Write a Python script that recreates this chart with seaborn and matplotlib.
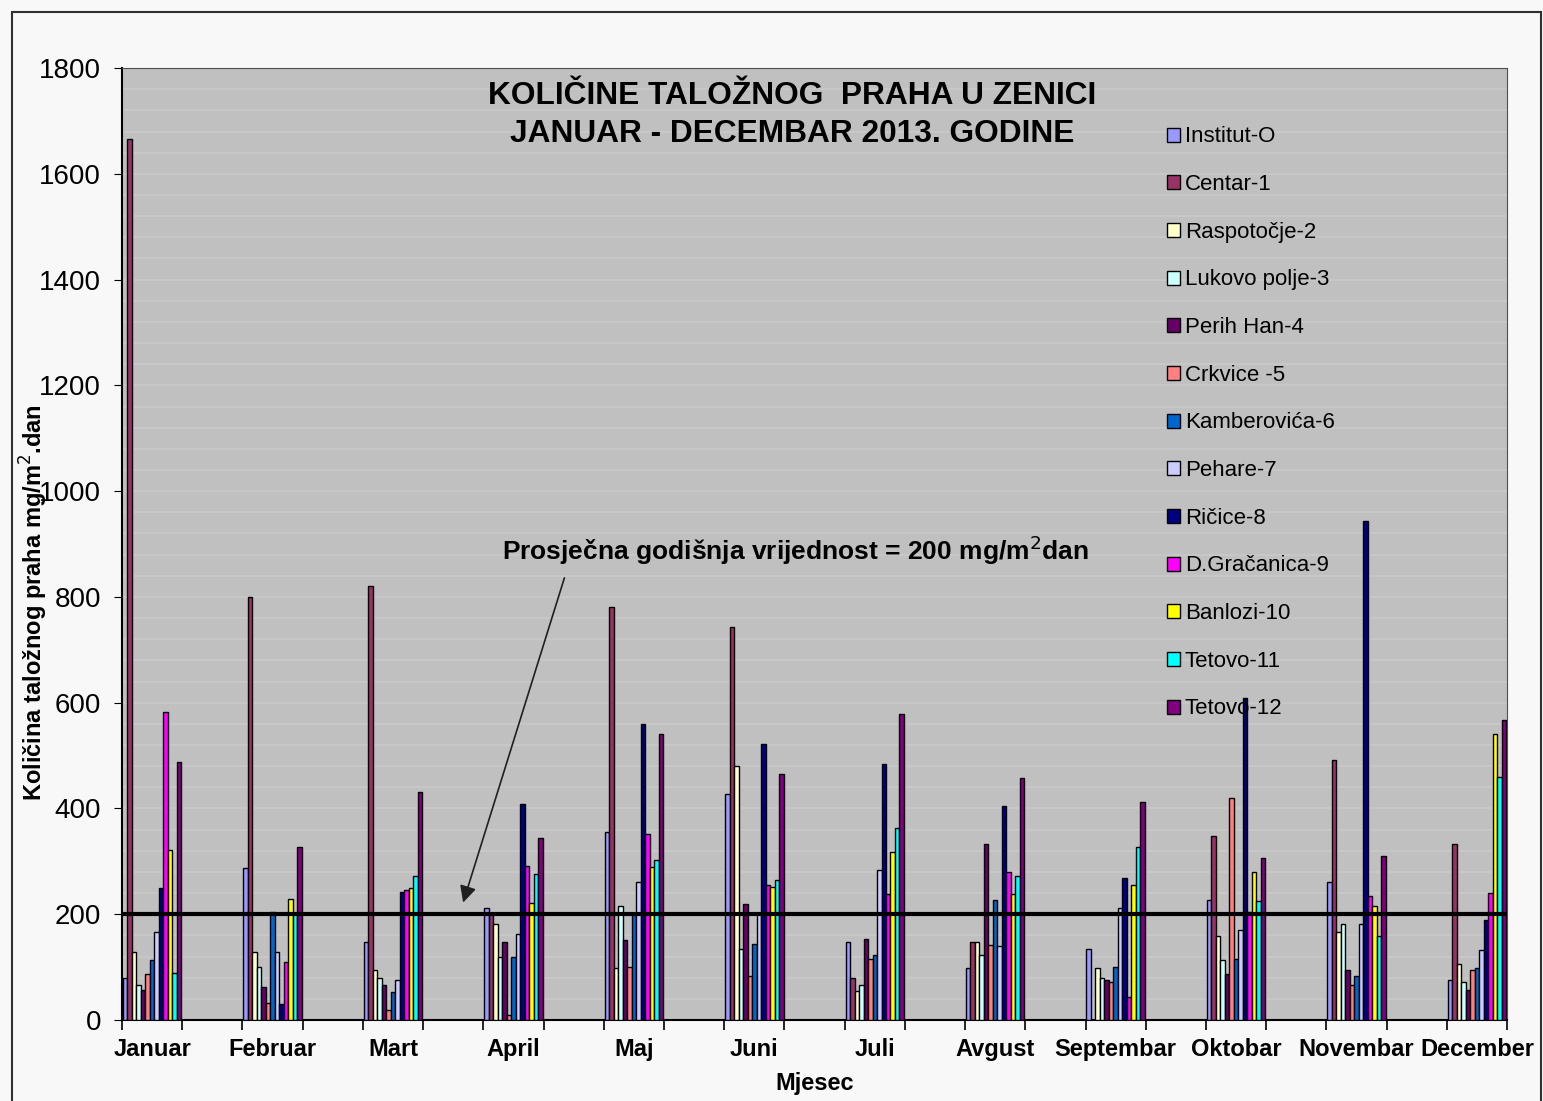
import numpy as np
import pandas as pd
import seaborn as sns
import matplotlib.pyplot as plt
from matplotlib.patches import Rectangle
from matplotlib.ticker import MultipleLocator

# mjeseci i mjerna mjesta
months = ['Januar', 'Februar', 'Mart', 'April', 'Maj', 'Juni', 'Juli',
          'Avgust', 'Septembar', 'Oktobar', 'Novembar', 'December']
stations = ['Institut-O', 'Centar-1', 'Raspotočje-2', 'Lukovo polje-3', 'Perih Han-4',
            'Crkvice -5', 'Kamberovića-6', 'Pehare-7', 'Ričice-8', 'D.Gračanica-9',
            'Banlozi-10', 'Tetovo-11', 'Tetovo-12']
colors = ['#9999FF', '#993366', '#FFFFCC', '#CCFFFF', '#660066', '#FF8080', '#0066CC',
          '#CCCCFF', '#000080', '#FF00FF', '#FFFF00', '#00FFFF', '#800080']

# vrijednosti mg/m2dan po mjesecima (Jan..Dec)
institut = [80, 287, 147, 212, 355, 427, 147, 98, 135, 226, 261, 76]
centar = [1665, 800, 821, 203, 781, 743, 79, 147, np.nan, 347, 491, 333]
raspotocje = [128, 128, 95, 181, 98, 480, 55, 147, 98, 158, 166, 105]
lukovo = [67, 101, 79, 120, 215, 135, 66, 123, 79, 113, 181, 71]
perih = [57, 63, 67, 147, 151, 219, 154, 332, 76, 86, 95, 57]
crkvice = [86, 33, 18, 9, 101, 83, 116, 142, 71, 419, 67, 95]
kamberovica = [113, 204, 52, 120, 200, 143, 123, 226, 101, 116, 83, 98]
pehare = [166, 128, 75, 162, 261, 200, 284, 139, 211, 170, 181, 132]
ricice = [250, 30, 242, 408, 560, 522, 484, 405, 269, 609, 943, 189]
gracanica = [583, 109, 245, 291, 351, 255, 238, 279, 44, 205, 234, 241]
banlozi = [321, 229, 249, 222, 290, 251, 317, 238, 256, 279, 215, 541]
tetovo11 = [89, 203, 272, 276, 302, 264, 363, 272, 328, 225, 158, 460]
tetovo12 = [488, 328, 432, 344, 541, 465, 579, 457, 412, 306, 310, 567]
series = [institut, centar, raspotocje, lukovo, perih, crkvice, kamberovica,
          pehare, ricice, gracanica, banlozi, tetovo11, tetovo12]

avg_value = 200

# prazne kategorije izmedju mjeseci (kao u Excelu)
order = []
for i, m in enumerate(months):
    order.append(m)
    if i < len(months) - 1:
        order.append('_%d' % i)

rows = []
for st, vals in zip(stations, series):
    for m, v in zip(months, vals):
        rows.append({'mjesec': m, 'stanica': st, 'vrijednost': v})
df = pd.DataFrame(rows).dropna(subset=['vrijednost'])

sns.set_style('white')
plt.rcParams['font.family'] = ['Liberation Sans', 'DejaVu Sans']
plt.rcParams['text.color'] = 'black'
plt.rcParams['axes.labelcolor'] = 'black'
plt.rcParams['xtick.color'] = 'black'
plt.rcParams['ytick.color'] = 'black'

fig = plt.figure(figsize=(15.43, 11.01), dpi=100)
fig.patch.set_facecolor('#F8F8F8')
ax = fig.add_axes([0.0791, 0.0736, 0.8976, 0.8646])
ax.set_facecolor('#C0C0C0')

sns.barplot(data=df, x='mjesec', y='vrijednost', hue='stanica', order=order,
            hue_order=stations, palette=colors, saturation=1, width=0.97, gap=0,
            errorbar=None, edgecolor='black', linewidth=1, ax=ax, zorder=3)

ax.set_xlim(-0.5, len(order) - 0.5)
ax.set_ylim(0, 1800)
ax.set_yticks(np.arange(0, 1801, 200))
ax.yaxis.set_minor_locator(MultipleLocator(40))
ax.grid(True, which='both', axis='y', color='#C9C9C9', lw=1.2, zorder=0)
ax.set_axisbelow(True)
ax.tick_params(axis='y', which='major', labelsize=20, length=6, direction='out',
               left=True, pad=9)
ax.tick_params(axis='y', which='minor', length=0)

# oznake mjeseci u sredini, crtice na granicama kategorija
month_pos = [order.index(m) for m in months]
ax.set_xticks(month_pos)
ax.set_xticklabels(months, fontsize=17, fontweight='bold')
ax.set_xticks(np.arange(-0.5, len(order), 1), minor=True)
ax.tick_params(axis='x', which='major', length=0, pad=13)
ax.tick_params(axis='x', which='minor', length=7, direction='out', bottom=True, width=1.2)

for s in ['top', 'right']:
    ax.spines[s].set_color('#505050')
for s in ['left', 'bottom']:
    ax.spines[s].set_color('black')
    ax.spines[s].set_linewidth(1.5)

ax.axhline(avg_value, color='black', lw=3, zorder=4)

ax.set_xlabel('Mjesec', fontsize=17, fontweight='bold', labelpad=8)
ax.set_ylabel('Količina taložnog praha mg/m$^{2}$.dan', fontsize=17, fontweight='bold')
ax.yaxis.set_label_coords(-0.052, 0.438)

ax.text(0.4838, 0.9505, 'KOLIČINE TALOŽNOG  PRAHA U ZENICI\nJANUAR - DECEMBAR 2013. GODINE',
        transform=ax.transAxes, ha='center', va='center', fontsize=22.8, fontweight='bold',
        linespacing=1.35, zorder=6)

ax.text(10.69, 889, 'Prosječna godišnja vrijednost = 200 mg/m$^{2}$dan', ha='center',
        va='center', fontsize=19, fontweight='bold', zorder=6)
ax.annotate('', xy=(5.15, 217), xytext=(6.86, 841),
            arrowprops=dict(arrowstyle='-|>', color='#202020', lw=1.2,
                            mutation_scale=25), zorder=6)

handles, labels = ax.get_legend_handles_labels()
ax.legend(handles, labels, loc='upper left', bbox_to_anchor=(0.748, 0.948),
          frameon=False, fontsize=16, handlelength=0.6, handleheight=0.6,
          handletextpad=0.2, labelspacing=1.2, borderaxespad=0)

fig.patches.append(Rectangle((0.0078, -0.05), 0.991, 1.039, fill=False, lw=1.5,
                             edgecolor='#303030', transform=fig.transFigure))

fig.savefig('out.png', dpi=100, facecolor=fig.get_facecolor())
